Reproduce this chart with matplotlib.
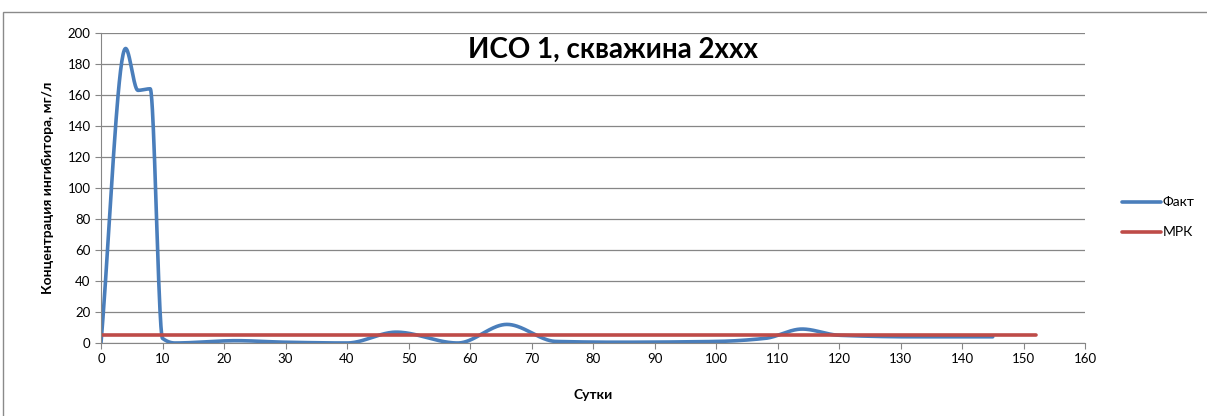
import numpy as np
import matplotlib
matplotlib.use("Agg")
import matplotlib.pyplot as plt
from matplotlib.patches import Rectangle

plt.rcParams['font.family'] = ['Lato', 'DejaVu Sans']

# Measured inhibitor concentration (mg/l) by day
days = [0, 4, 6, 8, 10, 12, 22, 30, 40, 48, 58, 66, 74, 84, 100, 108, 114, 120, 132, 145]
fact = [0, 190, 163, 164, 3, 0, 1.5, 0.5, 0, 7, 0, 12, 1, 0.5, 1, 3, 9, 5, 4, 4]

# Minimum effective concentration
mrk_days = [0, 152]
mrk = [5, 5]

x_ticks = list(range(0, 161, 10))
y_ticks = list(range(0, 201, 20))


def smooth(xs, ys, n=40):
    """Shape-preserving cubic Hermite curve through every point."""
    xs = np.asarray(xs, float)
    ys = np.asarray(ys, float)
    h = np.diff(xs)
    d = np.diff(ys) / h
    m = np.zeros_like(ys)
    for i in range(1, len(xs) - 1):
        if d[i - 1] * d[i] > 0:
            w1 = 2 * h[i] + h[i - 1]
            w2 = h[i] + 2 * h[i - 1]
            m[i] = (w1 + w2) / (w1 / d[i - 1] + w2 / d[i])
    m[0] = d[0]
    m[-1] = d[-1]
    px, py = [], []
    t = np.linspace(0, 1, n)
    for i in range(len(xs) - 1):
        h00 = 2 * t ** 3 - 3 * t ** 2 + 1
        h10 = t ** 3 - 2 * t ** 2 + t
        h01 = -2 * t ** 3 + 3 * t ** 2
        h11 = t ** 3 - t ** 2
        px.extend(xs[i] + t * h[i])
        py.extend(h00 * ys[i] + h10 * h[i] * m[i] + h01 * ys[i + 1] + h11 * h[i] * m[i + 1])
    return np.array(px), np.array(py)


fig = plt.figure(figsize=(12.07, 4.16), dpi=100)
fig.patches.append(Rectangle((3 / 1207, -0.1), 1.2, (416 - 12) / 416 + 0.1,
                             transform=fig.transFigure, fill=False,
                             edgecolor='#8a8a8a', linewidth=1.0))

ax = fig.add_axes([101 / 1207, (416 - 343) / 416, 984 / 1207, 310 / 416])

sx, sy = smooth(days, fact)
ax.plot(sx, sy, color='#4A7EBB', linewidth=2.6, label='Факт', solid_capstyle='round')
ax.plot(mrk_days, mrk, color='#BE4B48', linewidth=2.6, label='МРК', solid_capstyle='round')

ax.set_xlim(0, 160)
ax.set_ylim(0, 200)
ax.set_xticks(x_ticks)
ax.set_yticks(y_ticks)
ax.tick_params(axis='both', labelsize=9.5, colors='#868686', labelcolor='black',
               length=4, direction='out')
ax.grid(axis='y', color='#868686', linewidth=0.9)
ax.set_axisbelow(True)
for s in ['top', 'right']:
    ax.spines[s].set_visible(False)
for s in ['left', 'bottom']:
    ax.spines[s].set_color('#868686')

ax.set_xlabel('Сутки', fontsize=10, fontweight='bold', labelpad=17)
ax.set_ylabel('Концентрация ингибитора, мг/л', fontsize=10, fontweight='bold', labelpad=10)
ax.set_title('ИСО 1, скважина 2ххх', fontsize=20, fontweight='bold', x=0.52, y=0.893)

ax.legend(loc='center left', bbox_to_anchor=(1.025, 0.405), frameon=False,
          fontsize=10, handlelength=2.8, handletextpad=0.1, labelspacing=1.3)

fig.savefig('out.png', dpi=100)
